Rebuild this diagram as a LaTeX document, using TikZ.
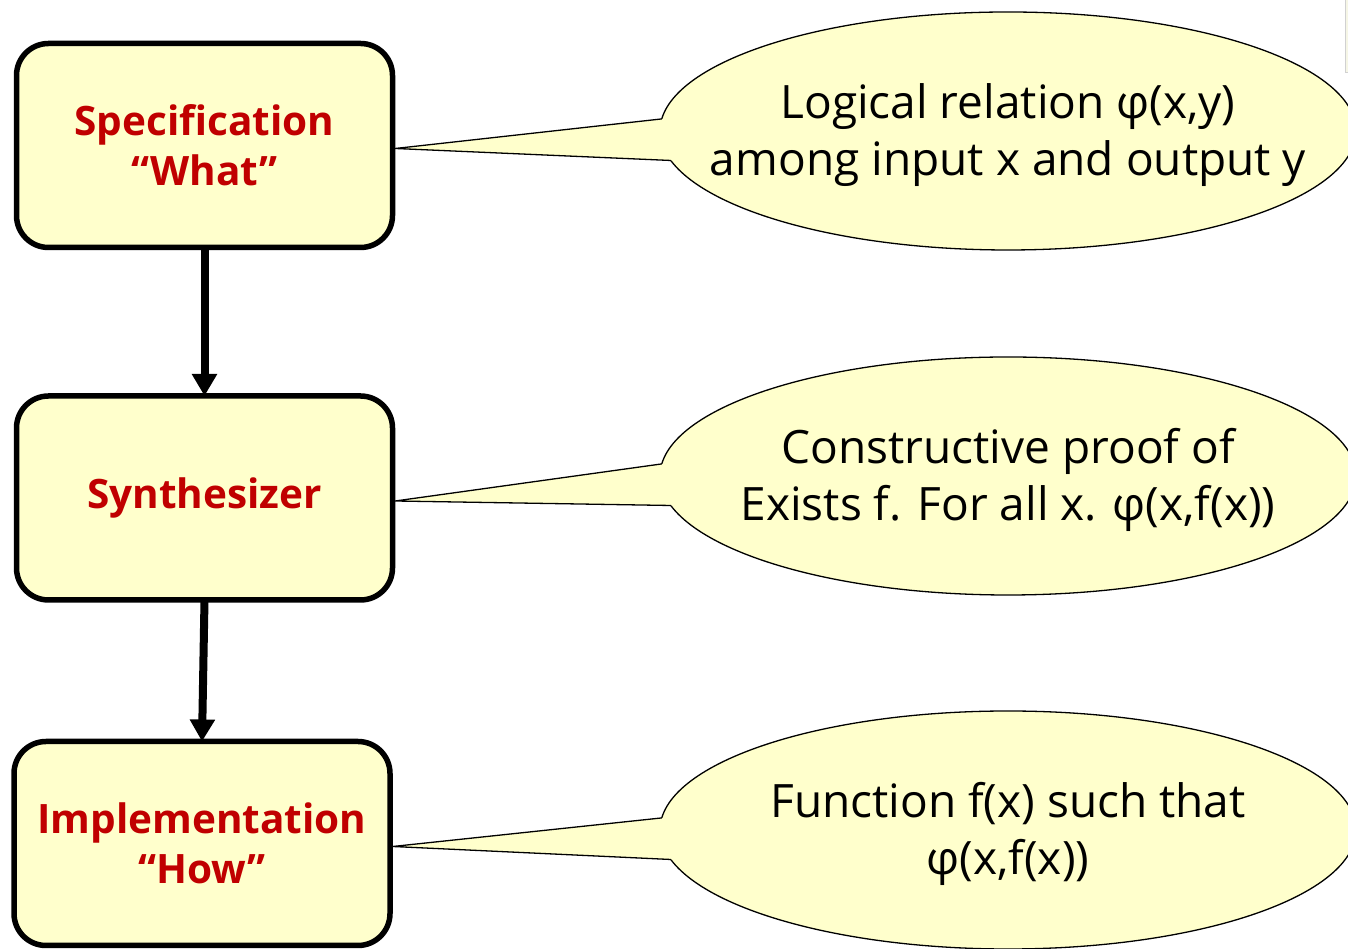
\documentclass[tikz,border=0pt]{standalone}
\usepackage{fontspec}
\setmainfont{Open Sans}
\usetikzlibrary{shapes.geometric,arrows.meta}
\definecolor{paleyellow}{HTML}{FFFFCC}
\definecolor{titlered}{HTML}{C00000}
\definecolor{edgecream}{HTML}{F6F6E6}
\begin{document}
\begin{tikzpicture}[x=1pt,y=1pt,
  stage/.style={draw=black, line width=5.5pt, fill=paleyellow, rounded corners=32pt,
    minimum width=376pt, minimum height=204pt, inner sep=0pt, outer sep=0pt,
    align=center, font=\fontsize{40.5}{50}\selectfont\bfseries, text=titlered},
  bubble/.style={ellipse, draw=black, line width=1.3pt, fill=paleyellow,
    minimum width=696pt, minimum height=238pt, inner sep=0pt, outer sep=0pt},
  bubbletext/.style={align=center, inner sep=0pt, font=\fontsize{46}{57}\selectfont},
  flow/.style={line width=8pt, -{Triangle[width=24pt,length=22pt]}},
  tailline/.style={draw=black, line width=1.3pt, line join=miter}]
\useasboundingbox (0,0) rectangle (1348,949);
\clip (0,0) rectangle (1348,949);

% strip of a neighbouring panel at the top right
\draw[fill=edgecream, draw=black!18, line width=0.8pt] (1345,877) rectangle (1355,955);

% pipeline stages
\node[stage] (b1) at (204.5,803.5) {Specification\\“What”};
\node[stage] (b2) at (204.5,451) {Synthesizer};
\node[stage] (b3) at (202,105.5) {Implementation\\“How”};

% explanatory callouts
\node[bubble] (e1) at (1008,818) {};
\node[bubble] (e2) at (1008,473) {};
\node[bubble] (e3) at (1008,119) {};

% callout tails
\foreach \b/\e in {b1/e1, b2/e2, b3/e3} {
  \coordinate (\e up) at (\e.178);
  \coordinate (\e lo) at (\e.185.5);
  \coordinate (\e tip) at ([xshift=2.75pt,yshift=-3pt]\b.east);
  \fill[paleyellow] (\e tip) -- (\e up) -- ([xshift=40pt]\e up)
    -- ([xshift=40pt]\e lo) -- (\e lo) -- cycle;
  \draw[tailline] (\e up) -- (\e tip) -- (\e lo);
}

% callout texts
\node[bubbletext] (e1t) at ([yshift=-4pt]e1.center) {Logical relation φ(x,y)\\among input x and output y};
\node[bubbletext] (e2t) at ([yshift=-4pt]e2.center) {Constructive proof of\\Exists f. For all x. φ(x,f(x))};
\node[bubbletext] (e3t) at ([yshift=-4pt]e3.center) {Function f(x) such that\\φ(x,f(x))};

% flow arrows
\draw[flow] (b1.south) -- (b2.north);
\draw[flow] (b2.south) -- (b3.north);
\end{tikzpicture}
\end{document}
